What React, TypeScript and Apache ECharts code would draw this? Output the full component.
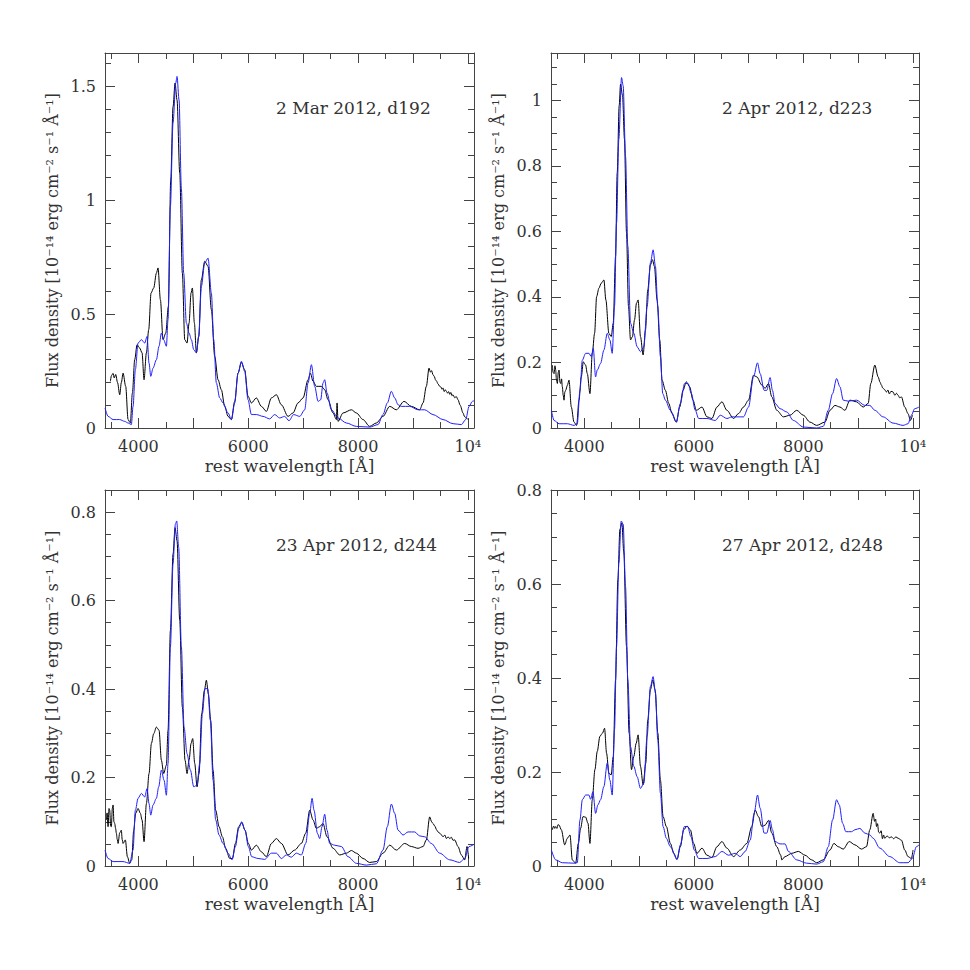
import React, { useEffect, useRef } from 'react';
import * as echarts from 'echarts';

// ---- data: [rest wavelength (Å), flux density (1e-14 erg cm^-2 s^-1 Å^-1)] ----
const obsMar: [number, number][] = [
  [3490, 0.205], [3510, 0.23], [3539, 0.24], [3560, 0.22], [3587, 0.235], [3620, 0.2], [3660, 0.146], [3690, 0.2], [3721, 0.241],
  [3769, 0.183], [3812, 0.037], [3854, 0.022], [3891, 0.154], [3933, 0.3], [3976, 0.366], [4024, 0.351],
  [4067, 0.33], [4103, 0.212], [4146, 0.33], [4188, 0.432], [4231, 0.593], [4279, 0.615], [4328, 0.68],
  [4358, 0.703], [4401, 0.563], [4449, 0.388], [4498, 0.417], [4546, 0.534], [4589, 1.09], [4631, 1.41],
  [4668, 1.515], [4704, 1.44], [4753, 1.12], [4801, 0.68], [4844, 0.388], [4886, 0.373], [4923, 0.461],
  [4959, 0.593], [4983, 0.615], [5020, 0.461], [5056, 0.33], [5099, 0.402], [5147, 0.651], [5208, 0.732],
  [5269, 0.71], [5329, 0.52], [5390, 0.315], [5451, 0.212], [5511, 0.168], [5572, 0.095], [5633, 0.051],
  [5694, 0.037], [5754, 0.117], [5815, 0.241], [5876, 0.288], [5936, 0.256], [5997, 0.139], [6058, 0.11],
  [6149, 0.132], [6240, 0.095], [6331, 0.073], [6422, 0.132], [6513, 0.146], [6604, 0.102], [6725, 0.051],
  [6816, 0.066], [6907, 0.11], [6999, 0.132], [7090, 0.212], [7132, 0.241], [7181, 0.205], [7241, 0.183],
  [7332, 0.183], [7393, 0.168], [7454, 0.124], [7545, 0.066], [7606, 0.037], [7618, 0.11], [7636, 0.029],
  [7727, 0.066], [7879, 0.08], [7970, 0.066], [8091, 0.037], [8212, 0.007], [8333, 0.022], [8455, 0.051],
  [8577, 0.095], [8698, 0.08], [8838, 0.117], [8971, 0.095], [9123, 0.08], [9184, 0.11], [9244, 0.183],
  [9293, 0.263], [9320, 0.245], [9340, 0.252], [9365, 0.234], [9390, 0.226], [9410, 0.212], [9430, 0.206],
  [9455, 0.194], [9487, 0.183], [9510, 0.18], [9530, 0.17], [9548, 0.176], [9570, 0.16], [9590, 0.168],
  [9608, 0.161], [9630, 0.153], [9650, 0.16], [9670, 0.148], [9690, 0.156], [9710, 0.142], [9730, 0.146],
  [9760, 0.133], [9790, 0.138], [9821, 0.124], [9860, 0.1], [9912, 0.066], [9940, 0.05], [9973, 0.044],
  [10003, 0.037]
];
const modMar: [number, number][] = [
  [3393, 0.088], [3448, 0.051], [3539, 0.037], [3660, 0.037], [3751, 0.029], [3812, 0.022], [3872, 0.015],
  [3903, 0.095], [3945, 0.256], [3994, 0.373], [4055, 0.388], [4115, 0.373], [4158, 0.402], [4194, 0.285],
  [4225, 0.227], [4267, 0.263], [4328, 0.3], [4376, 0.359], [4419, 0.417], [4461, 0.388], [4510, 0.359],
  [4540, 0.476], [4583, 0.973], [4631, 1.34], [4680, 1.515], [4704, 1.544], [4741, 1.44], [4783, 1.05],
  [4825, 0.68], [4874, 0.461], [4923, 0.417], [4965, 0.388], [5008, 0.344], [5056, 0.33], [5099, 0.402],
  [5147, 0.622], [5208, 0.725], [5269, 0.746], [5329, 0.593], [5372, 0.388], [5420, 0.198], [5481, 0.132],
  [5542, 0.11], [5633, 0.066], [5694, 0.037], [5754, 0.11], [5815, 0.241], [5876, 0.293], [5936, 0.249],
  [5997, 0.124], [6058, 0.059], [6149, 0.059], [6270, 0.051], [6391, 0.04], [6482, 0.059], [6573, 0.044],
  [6664, 0.051], [6743, 0.032], [6828, 0.059], [6938, 0.051], [7029, 0.08], [7090, 0.198], [7151, 0.278],
  [7211, 0.183], [7272, 0.117], [7320, 0.124], [7363, 0.198], [7393, 0.212], [7435, 0.154], [7514, 0.08],
  [7636, 0.044], [7788, 0.022], [7970, 0.007], [8212, 0.004], [8364, 0.015], [8455, 0.059], [8534, 0.11],
  [8607, 0.161], [8668, 0.132], [8729, 0.102], [8789, 0.095], [8941, 0.095], [9093, 0.08], [9214, 0.08],
  [9365, 0.059], [9548, 0.037], [9730, 0.019], [9882, 0.015], [9961, 0.037], [10022, 0.095], [10082, 0.117],
  [10112, 0.12]
];

const obsApr2: [number, number][] = [
  [3417, 0.192], [3430, 0.17], [3448, 0.166], [3465, 0.19], [3478, 0.177], [3490, 0.15], [3508, 0.136], [3525, 0.17],
  [3539, 0.177], [3555, 0.14], [3569, 0.136], [3585, 0.15], [3599, 0.126], [3615, 0.1], [3630, 0.085], [3645, 0.11],
  [3660, 0.115], [3690, 0.13], [3721, 0.146], [3763, 0.064], [3812, 0.018], [3860, 0.008], [3903, 0.085],
  [3945, 0.156], [3982, 0.202], [4024, 0.192], [4055, 0.166], [4103, 0.105], [4146, 0.228], [4188, 0.289],
  [4225, 0.401], [4267, 0.427], [4309, 0.442], [4358, 0.452], [4394, 0.391], [4449, 0.289], [4492, 0.279],
  [4528, 0.32], [4571, 0.524], [4601, 0.779], [4637, 0.984], [4662, 1.05], [4698, 1.015], [4734, 0.882],
  [4771, 0.596], [4807, 0.371], [4844, 0.269], [4880, 0.279], [4917, 0.33], [4953, 0.381], [4983, 0.391],
  [5026, 0.279], [5074, 0.223], [5117, 0.299], [5159, 0.422], [5208, 0.498], [5244, 0.514], [5281, 0.493],
  [5329, 0.391], [5378, 0.269], [5420, 0.146], [5481, 0.115], [5542, 0.075], [5602, 0.044], [5681, 0.018],
  [5742, 0.064], [5803, 0.115], [5864, 0.141], [5924, 0.126], [5985, 0.085], [6046, 0.054], [6149, 0.064],
  [6240, 0.034], [6331, 0.029], [6422, 0.064], [6513, 0.08], [6604, 0.054], [6725, 0.029], [6816, 0.044],
  [6907, 0.064], [6999, 0.085], [7090, 0.161], [7151, 0.156], [7242, 0.131], [7302, 0.121], [7363, 0.136],
  [7424, 0.095], [7515, 0.054], [7636, 0.034], [7757, 0.039], [7879, 0.054], [8000, 0.039], [8121, 0.018],
  [8243, 0.008], [8395, 0.018], [8486, 0.054], [8577, 0.069], [8668, 0.064], [8759, 0.054], [8850, 0.085],
  [8971, 0.08], [9093, 0.064], [9184, 0.075], [9232, 0.136], [9305, 0.192], [9366, 0.156], [9400, 0.14],
  [9426, 0.131], [9450, 0.122], [9480, 0.118], [9517, 0.11], [9545, 0.116], [9570, 0.104], [9600, 0.112],
  [9639, 0.11], [9670, 0.1], [9700, 0.106], [9730, 0.1], [9760, 0.092], [9791, 0.095], [9852, 0.064],
  [9912, 0.044], [9955, 0.023], [9991, 0.039]
];
const modApr2: [number, number][] = [
  [3399, 0.054], [3448, 0.023], [3539, 0.013], [3690, 0.013], [3812, 0.008], [3872, 0.013], [3921, 0.115],
  [3964, 0.207], [4024, 0.228], [4085, 0.228], [4127, 0.218], [4164, 0.243], [4206, 0.156], [4237, 0.177],
  [4297, 0.197], [4358, 0.238], [4419, 0.289], [4467, 0.269], [4510, 0.228], [4552, 0.371], [4589, 0.626],
  [4631, 0.882], [4680, 1.07], [4710, 1.045], [4753, 0.83], [4795, 0.555], [4844, 0.32], [4904, 0.289],
  [4965, 0.248], [5026, 0.233], [5087, 0.248], [5147, 0.371], [5208, 0.504], [5257, 0.544], [5299, 0.493],
  [5342, 0.371], [5390, 0.218], [5433, 0.105], [5481, 0.085], [5572, 0.054], [5681, 0.018], [5754, 0.075],
  [5833, 0.136], [5894, 0.136], [5955, 0.105], [6027, 0.054], [6088, 0.029], [6240, 0.029], [6392, 0.023],
  [6483, 0.039], [6604, 0.029], [6695, 0.034], [6786, 0.034], [6907, 0.034], [6999, 0.064], [7090, 0.156],
  [7163, 0.199], [7211, 0.166], [7284, 0.115], [7333, 0.115], [7393, 0.154], [7436, 0.115], [7484, 0.075],
  [7575, 0.059], [7697, 0.049], [7818, 0.023], [8000, 0.003], [8243, 0.0], [8364, 0.005], [8455, 0.054],
  [8534, 0.105], [8607, 0.151], [8668, 0.126], [8729, 0.085], [8820, 0.082], [8971, 0.085], [9123, 0.069],
  [9214, 0.069], [9305, 0.054], [9457, 0.034], [9639, 0.015], [9821, 0.008], [9912, 0.013], [9973, 0.039],
  [10033, 0.059], [10112, 0.064]
];

const obsApr23: [number, number][] = [
  [3417, 0.104], [3430, 0.12], [3448, 0.089], [3465, 0.13], [3478, 0.126], [3495, 0.09], [3508, 0.089],
  [3525, 0.13], [3539, 0.138], [3555, 0.1], [3569, 0.096], [3585, 0.085], [3599, 0.074], [3615, 0.06],
  [3630, 0.051], [3660, 0.075], [3690, 0.081], [3705, 0.06], [3721, 0.051], [3763, 0.059], [3800, 0.021],
  [3842, 0.006], [3879, 0.014], [3915, 0.081], [3951, 0.119], [3994, 0.13], [4036, 0.119], [4067, 0.104],
  [4103, 0.055], [4146, 0.141], [4194, 0.209], [4237, 0.277], [4279, 0.299], [4328, 0.314], [4376, 0.307],
  [4419, 0.239], [4461, 0.209], [4510, 0.228], [4540, 0.307], [4583, 0.532], [4631, 0.705], [4668, 0.765],
  [4704, 0.735], [4753, 0.555], [4801, 0.359], [4850, 0.239], [4886, 0.209], [4923, 0.239], [4959, 0.277],
  [4989, 0.288], [5026, 0.232], [5068, 0.179], [5105, 0.209], [5153, 0.344], [5202, 0.397], [5238, 0.42],
  [5275, 0.389], [5317, 0.329], [5360, 0.217], [5408, 0.126], [5469, 0.089], [5530, 0.066], [5590, 0.04],
  [5663, 0.017], [5712, 0.017], [5767, 0.051], [5827, 0.089], [5882, 0.098], [5942, 0.081], [6003, 0.051],
  [6058, 0.036], [6149, 0.047], [6240, 0.032], [6331, 0.021], [6422, 0.051], [6513, 0.062], [6604, 0.051],
  [6725, 0.025], [6847, 0.036], [6968, 0.051], [7047, 0.074], [7120, 0.126], [7181, 0.104], [7241, 0.085],
  [7302, 0.089], [7363, 0.096], [7435, 0.066], [7545, 0.04], [7666, 0.025], [7788, 0.029], [7879, 0.035],
  [7970, 0.029], [8091, 0.017], [8212, 0.008], [8333, 0.01], [8455, 0.029], [8577, 0.047], [8698, 0.036],
  [8850, 0.051], [8971, 0.044], [9093, 0.04], [9184, 0.044], [9244, 0.059], [9305, 0.111], [9340, 0.1],
  [9365, 0.096], [9400, 0.09], [9430, 0.082], [9457, 0.077], [9490, 0.074], [9520, 0.07], [9548, 0.066],
  [9580, 0.07], [9610, 0.062], [9640, 0.066], [9669, 0.062], [9700, 0.065], [9730, 0.058], [9760, 0.059],
  [9821, 0.044], [9882, 0.025], [9943, 0.014], [9985, 0.044], [10015, 0.017]
];
const modApr23: [number, number][] = [
  [3393, 0.036], [3448, 0.017], [3539, 0.01], [3721, 0.01], [3842, 0.006], [3903, 0.036], [3945, 0.126],
  [3994, 0.153], [4055, 0.164], [4115, 0.156], [4158, 0.175], [4194, 0.141], [4225, 0.115], [4267, 0.138],
  [4328, 0.153], [4370, 0.179], [4419, 0.217], [4467, 0.194], [4510, 0.16], [4540, 0.232], [4583, 0.495],
  [4631, 0.683], [4674, 0.773], [4698, 0.78], [4734, 0.72], [4783, 0.495], [4832, 0.314], [4886, 0.254],
  [4947, 0.217], [5008, 0.179], [5068, 0.183], [5117, 0.232], [5165, 0.344], [5214, 0.401], [5263, 0.401],
  [5311, 0.329], [5360, 0.194], [5408, 0.104], [5469, 0.07], [5542, 0.051], [5633, 0.029], [5706, 0.014],
  [5767, 0.044], [5827, 0.085], [5882, 0.1], [5942, 0.081], [6003, 0.044], [6064, 0.021], [6179, 0.017],
  [6300, 0.015], [6422, 0.029], [6513, 0.029], [6604, 0.017], [6695, 0.025], [6786, 0.02], [6877, 0.029],
  [6968, 0.025], [7047, 0.051], [7120, 0.119], [7163, 0.153], [7199, 0.126], [7260, 0.074], [7302, 0.062],
  [7345, 0.089], [7393, 0.117], [7435, 0.081], [7484, 0.051], [7575, 0.047], [7697, 0.044], [7818, 0.021],
  [7970, 0.006], [8152, 0.002], [8334, 0.005], [8455, 0.036], [8534, 0.089], [8607, 0.14], [8668, 0.119],
  [8729, 0.081], [8820, 0.07], [8911, 0.077], [9032, 0.077], [9123, 0.068], [9214, 0.066], [9335, 0.051],
  [9487, 0.029], [9669, 0.014], [9851, 0.008], [9943, 0.017], [10022, 0.044], [10112, 0.049]
];

const obsApr27: [number, number][] = [
  [3417, 0.077], [3440, 0.085], [3460, 0.08], [3478, 0.084], [3500, 0.08], [3520, 0.088], [3539, 0.087],
  [3581, 0.077], [3642, 0.045], [3690, 0.059], [3739, 0.066], [3781, 0.013], [3842, 0.006], [3891, 0.048],
  [3933, 0.08], [3976, 0.105], [4024, 0.104], [4067, 0.091], [4103, 0.048], [4146, 0.141], [4194, 0.205],
  [4237, 0.244], [4285, 0.276], [4334, 0.283], [4370, 0.293], [4407, 0.24], [4449, 0.197], [4492, 0.194],
  [4528, 0.233], [4571, 0.396], [4613, 0.609], [4650, 0.716], [4686, 0.73], [4722, 0.666], [4771, 0.467],
  [4819, 0.283], [4862, 0.205], [4904, 0.233], [4947, 0.261], [4983, 0.279], [5026, 0.212], [5074, 0.173],
  [5123, 0.219], [5159, 0.311], [5208, 0.375], [5250, 0.396], [5293, 0.375], [5342, 0.283], [5390, 0.183],
  [5439, 0.105], [5499, 0.084], [5572, 0.048], [5633, 0.027], [5694, 0.014], [5754, 0.041], [5815, 0.077],
  [5876, 0.085], [5936, 0.077], [5997, 0.048], [6058, 0.027], [6149, 0.038], [6240, 0.023], [6331, 0.018],
  [6422, 0.041], [6513, 0.052], [6604, 0.038], [6725, 0.02], [6847, 0.034], [6968, 0.048], [7059, 0.084],
  [7120, 0.119], [7181, 0.105], [7242, 0.084], [7302, 0.087], [7363, 0.097], [7424, 0.07], [7515, 0.041],
  [7588, 0.023], [7606, 0.013], [7666, 0.02], [7788, 0.027], [7909, 0.031], [8030, 0.023], [8152, 0.013],
  [8243, 0.007], [8364, 0.013], [8486, 0.034], [8559, 0.048], [8638, 0.041], [8729, 0.036], [8838, 0.052],
  [8941, 0.045], [9062, 0.036], [9153, 0.041], [9214, 0.077], [9275, 0.112], [9300, 0.095], [9320, 0.1],
  [9336, 0.084], [9355, 0.09], [9375, 0.072], [9396, 0.07], [9420, 0.075], [9445, 0.058], [9465, 0.066],
  [9487, 0.059], [9530, 0.064], [9570, 0.06], [9609, 0.062], [9650, 0.058], [9690, 0.062], [9730, 0.059],
  [9791, 0.055], [9852, 0.034], [9912, 0.02], [9973, 0.016], [10003, 0.034]
];
const modApr27: [number, number][] = [
  [3399, 0.034], [3478, 0.013], [3599, 0.007], [3812, 0.006], [3872, 0.007], [3921, 0.098], [3964, 0.141],
  [4024, 0.151], [4085, 0.151], [4115, 0.142], [4158, 0.158], [4206, 0.112], [4249, 0.13], [4297, 0.141],
  [4358, 0.169], [4419, 0.219], [4467, 0.183], [4510, 0.151], [4552, 0.29], [4589, 0.467], [4631, 0.645],
  [4674, 0.734], [4710, 0.727], [4753, 0.595], [4795, 0.396], [4844, 0.254], [4904, 0.212], [4965, 0.19],
  [5026, 0.165], [5087, 0.176], [5147, 0.276], [5208, 0.382], [5257, 0.403], [5299, 0.368], [5342, 0.268],
  [5390, 0.155], [5439, 0.084], [5499, 0.059], [5572, 0.041], [5694, 0.014], [5754, 0.045], [5827, 0.084],
  [5888, 0.084], [5949, 0.062], [6009, 0.034], [6088, 0.016], [6240, 0.016], [6392, 0.02], [6513, 0.031],
  [6634, 0.023], [6755, 0.027], [6847, 0.02], [6938, 0.031], [7029, 0.055], [7102, 0.112], [7163, 0.151],
  [7211, 0.123], [7284, 0.07], [7333, 0.07], [7393, 0.097], [7436, 0.077], [7484, 0.052], [7575, 0.047],
  [7666, 0.047], [7727, 0.031], [7879, 0.013], [8061, 0.006], [8243, 0.004], [8364, 0.009], [8455, 0.041],
  [8534, 0.098], [8607, 0.141], [8656, 0.13], [8717, 0.091], [8777, 0.073], [8880, 0.073], [8941, 0.077],
  [9032, 0.08], [9123, 0.07], [9214, 0.066], [9275, 0.059], [9396, 0.038], [9578, 0.02], [9761, 0.007],
  [9912, 0.007], [9991, 0.016], [10064, 0.041], [10112, 0.045]
];

// ---- axes ----
const X_MIN = 3392;
const X_MAX = 10112;
const xMajorTicks = [4000, 5000, 6000, 7000, 8000, 9000, 10000];
const xMinorTicks = [3500, 4500, 5500, 6500, 7500, 8500, 9500];
const xTickLabels = [4000, 6000, 8000, 10000];

const yMaxes = [1.647, 1.145, 0.85, 0.8];
const yMajorTicks = [
  [0, 0.5, 1, 1.5],
  [0, 0.2, 0.4, 0.6, 0.8, 1],
  [0, 0.2, 0.4, 0.6, 0.8],
  [0, 0.2, 0.4, 0.6, 0.8]
];
const yMinorTicks = [
  [0.1, 0.2, 0.3, 0.4, 0.6, 0.7, 0.8, 0.9, 1.1, 1.2, 1.3, 1.4, 1.6],
  [0.05, 0.1, 0.15, 0.25, 0.3, 0.35, 0.45, 0.5, 0.55, 0.65, 0.7, 0.75, 0.85, 0.9, 0.95, 1.05, 1.1],
  [0.05, 0.1, 0.15, 0.25, 0.3, 0.35, 0.45, 0.5, 0.55, 0.65, 0.7, 0.75],
  [0.05, 0.1, 0.15, 0.25, 0.3, 0.35, 0.45, 0.5, 0.55, 0.65, 0.7, 0.75]
];
const dateLabels = ['2 Mar 2012, d192', '2 Apr 2012, d223', '23 Apr 2012, d244', '27 Apr 2012, d248'];
const observed = [obsMar, obsApr2, obsApr23, obsApr27];
const model = [modMar, modApr2, modApr23, modApr27];

const yAxisName = 'Flux density [10⁻¹⁴ erg cm⁻² s⁻¹ Å⁻¹]';
const xAxisName = 'rest wavelength [Å]';

const grids = [
  { left: 105, top: 53, width: 369, height: 375 },
  { left: 551, top: 53, width: 368, height: 375 },
  { left: 105, top: 490, width: 369, height: 376 },
  { left: 551, top: 490, width: 368, height: 376 }
];

const FONT = 'DejaVu Serif';
const INK = '#333';
const FRAME = '#444';

function fmtY(v: number) {
  return String(v);
}

export default function App() {
  const ref = useRef<HTMLDivElement>(null);
  useEffect(() => {
    if (!ref.current) return;
    const chart = echarts.init(ref.current, undefined, { renderer: 'svg' });
    const xAxes: any[] = [];
    const yAxes: any[] = [];
    const series: any[] = [];
    const graphics: any[] = [];
    grids.forEach((g, i) => {
      const variants = [
        { pos: 'bottom', major: true },
        { pos: 'bottom', major: false },
        { pos: 'top', major: true },
        { pos: 'top', major: false }
      ];
      variants.forEach((v) => {
        xAxes.push({
          type: 'value', gridIndex: i, position: v.pos, min: X_MIN, max: X_MAX,
          axisLine: { show: v.major, onZero: false, lineStyle: { color: FRAME, width: 1 } },
          axisTick: { show: true, inside: true, length: v.major ? 10 : 6, customValues: v.major ? xMajorTicks : xMinorTicks, lineStyle: { color: FRAME, width: 1 } },
          axisLabel: v.pos === 'bottom' && v.major ? {
            show: true, customValues: xTickLabels, margin: 10, color: INK, fontFamily: FONT, fontSize: 16,
            formatter: (val: number) => (val === 10000 ? '10⁴' : String(val))
          } : { show: false },
          splitLine: { show: false }
        });
      });
      const yVariants = [
        { pos: 'left', major: true },
        { pos: 'left', major: false },
        { pos: 'right', major: true },
        { pos: 'right', major: false }
      ];
      yVariants.forEach((v) => {
        yAxes.push({
          type: 'value', gridIndex: i, position: v.pos, min: 0, max: yMaxes[i],
          axisLine: { show: v.major, onZero: false, lineStyle: { color: FRAME, width: 1 } },
          axisTick: { show: true, inside: true, length: v.major ? 10 : 6, customValues: v.major ? yMajorTicks[i] : yMinorTicks[i], lineStyle: { color: FRAME, width: 1 } },
          axisLabel: v.pos === 'left' && v.major ? {
            show: true, customValues: yMajorTicks[i], margin: 9, color: INK, fontFamily: FONT, fontSize: 16,
            formatter: fmtY
          } : { show: false },
          splitLine: { show: false }
        });
      });
      series.push({
        type: 'line', xAxisIndex: i * 4, yAxisIndex: i * 4, data: observed[i], showSymbol: false,
        smooth: 0.3, smoothMonotone: 'x',
        lineStyle: { color: '#000', width: 1 }, clip: true, silent: true
      });
      series.push({
        type: 'line', xAxisIndex: i * 4, yAxisIndex: i * 4, data: model[i], showSymbol: false,
        smooth: 0.3, smoothMonotone: 'x',
        lineStyle: { color: '#1f1fff', width: 1 }, clip: true, silent: true
      });
      graphics.push({
        type: 'text', left: g.left + 171, top: g.top + 46,
        style: { text: dateLabels[i], fontFamily: FONT, fontSize: 17, fill: INK }
      });
      graphics.push({
        type: 'text', x: g.left + g.width / 2, y: g.top + g.height + 38,
        style: { text: xAxisName, fontFamily: FONT, fontSize: 17, fill: INK, align: 'center', verticalAlign: 'middle' }
      });
      graphics.push({
        type: 'text', x: g.left - 53, y: g.top + g.height / 2, rotation: Math.PI / 2,
        style: { text: yAxisName, fontFamily: FONT, fontSize: 16, fill: INK, align: 'center', verticalAlign: 'middle' }
      });
    });
    chart.setOption({
      animation: false,
      backgroundColor: '#fff',
      grid: grids.map((g) => ({ ...g, containLabel: false })),
      xAxis: xAxes,
      yAxis: yAxes,
      series,
      graphic: graphics
    });
    return () => chart.dispose();
  }, []);
  return <div ref={ref} style={{ position: 'absolute', left: 0, top: 0, width: 970, height: 970 }} />;
}
